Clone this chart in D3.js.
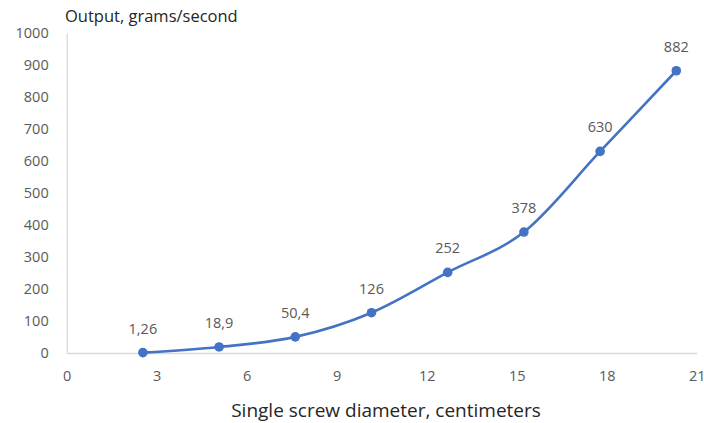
<!DOCTYPE html>
<html>
<head>
<meta charset="utf-8">
<script src="https://cdn.jsdelivr.net/npm/d3@7"></script>
<style>
  html, body { margin: 0; padding: 0; background: #fff; }
  svg { display: block; font-family: "Open Sans", "Liberation Sans", sans-serif; }
</style>
</head>
<body>
<svg id="chart" width="704" height="423"></svg>
<script>
// Screw diameter (cm) and throughput (g/s)
const diameters = [2.54, 5.08, 7.62, 10.16, 12.7, 15.24, 17.78, 20.32];
const outputs = [1.26, 18.9, 50.4, 126, 252, 378, 630, 882];
const outputLabels = ["1,26", "18,9", "50,4", "126", "252", "378", "630", "882"];
const xTicks = [0, 3, 6, 9, 12, 15, 18, 21];
const yTicks = [0, 100, 200, 300, 400, 500, 600, 700, 800, 900, 1000];

const svg = d3.select("#chart");
const plotLeft = 66.7, plotRight = 696.7, plotTop = 33, plotBottom = 353;

const x = d3.scaleLinear().domain([0, 21]).range([plotLeft, plotRight]);
const y = d3.scaleLinear().domain([0, 1000]).range([plotBottom, plotTop]);

const textColor = "#595959";
const axisColor = "#d9d9d9";
const lineColor = "#4472C4";
const tickFont = 14.5;

// Axes
const xAxis = svg.append("g")
  .attr("transform", `translate(0,${plotBottom})`)
  .call(d3.axisBottom(x).tickValues(xTicks).tickSize(0).tickPadding(18).tickFormat(d3.format("d")));
const yAxis = svg.append("g")
  .attr("transform", `translate(${plotLeft},0)`)
  .call(d3.axisLeft(y).tickValues(yTicks).tickSize(0).tickPadding(18).tickFormat(d3.format("d")));

[xAxis, yAxis].forEach(g => {
  g.select(".domain").attr("stroke", axisColor).attr("stroke-width", 1.3);
  g.selectAll(".tick text").attr("fill", textColor).attr("font-size", tickFont)
    .attr("font-family", "'Open Sans', sans-serif");
});

// Smoothed series line
const line = d3.line()
  .x((d, i) => x(diameters[i]))
  .y(d => y(d))
  .curve(d3.curveCatmullRom.alpha(0));

svg.append("path")
  .datum(outputs)
  .attr("fill", "none")
  .attr("stroke", lineColor)
  .attr("stroke-width", 2.6)
  .attr("d", line);

// Markers
svg.append("g").selectAll("circle")
  .data(outputs)
  .join("circle")
  .attr("cx", (d, i) => x(diameters[i]))
  .attr("cy", d => y(d))
  .attr("r", 4.8)
  .attr("fill", lineColor);

// Data labels
svg.append("g").selectAll("text")
  .data(outputs)
  .join("text")
  .attr("x", (d, i) => x(diameters[i]))
  .attr("y", d => y(d) - 19)
  .attr("text-anchor", "middle")
  .attr("fill", textColor)
  .attr("font-size", tickFont)
  .text((d, i) => outputLabels[i]);

// Axis titles
svg.append("text")
  .attr("x", 65).attr("y", 22)
  .attr("fill", "#262626")
  .attr("font-size", 16.5)
  .text("Output, grams/second");

svg.append("text")
  .attr("x", 386).attr("y", 417)
  .attr("text-anchor", "middle")
  .attr("fill", "#262626")
  .attr("font-size", 19)
  .text("Single screw diameter, centimeters");
</script>
</body>
</html>
